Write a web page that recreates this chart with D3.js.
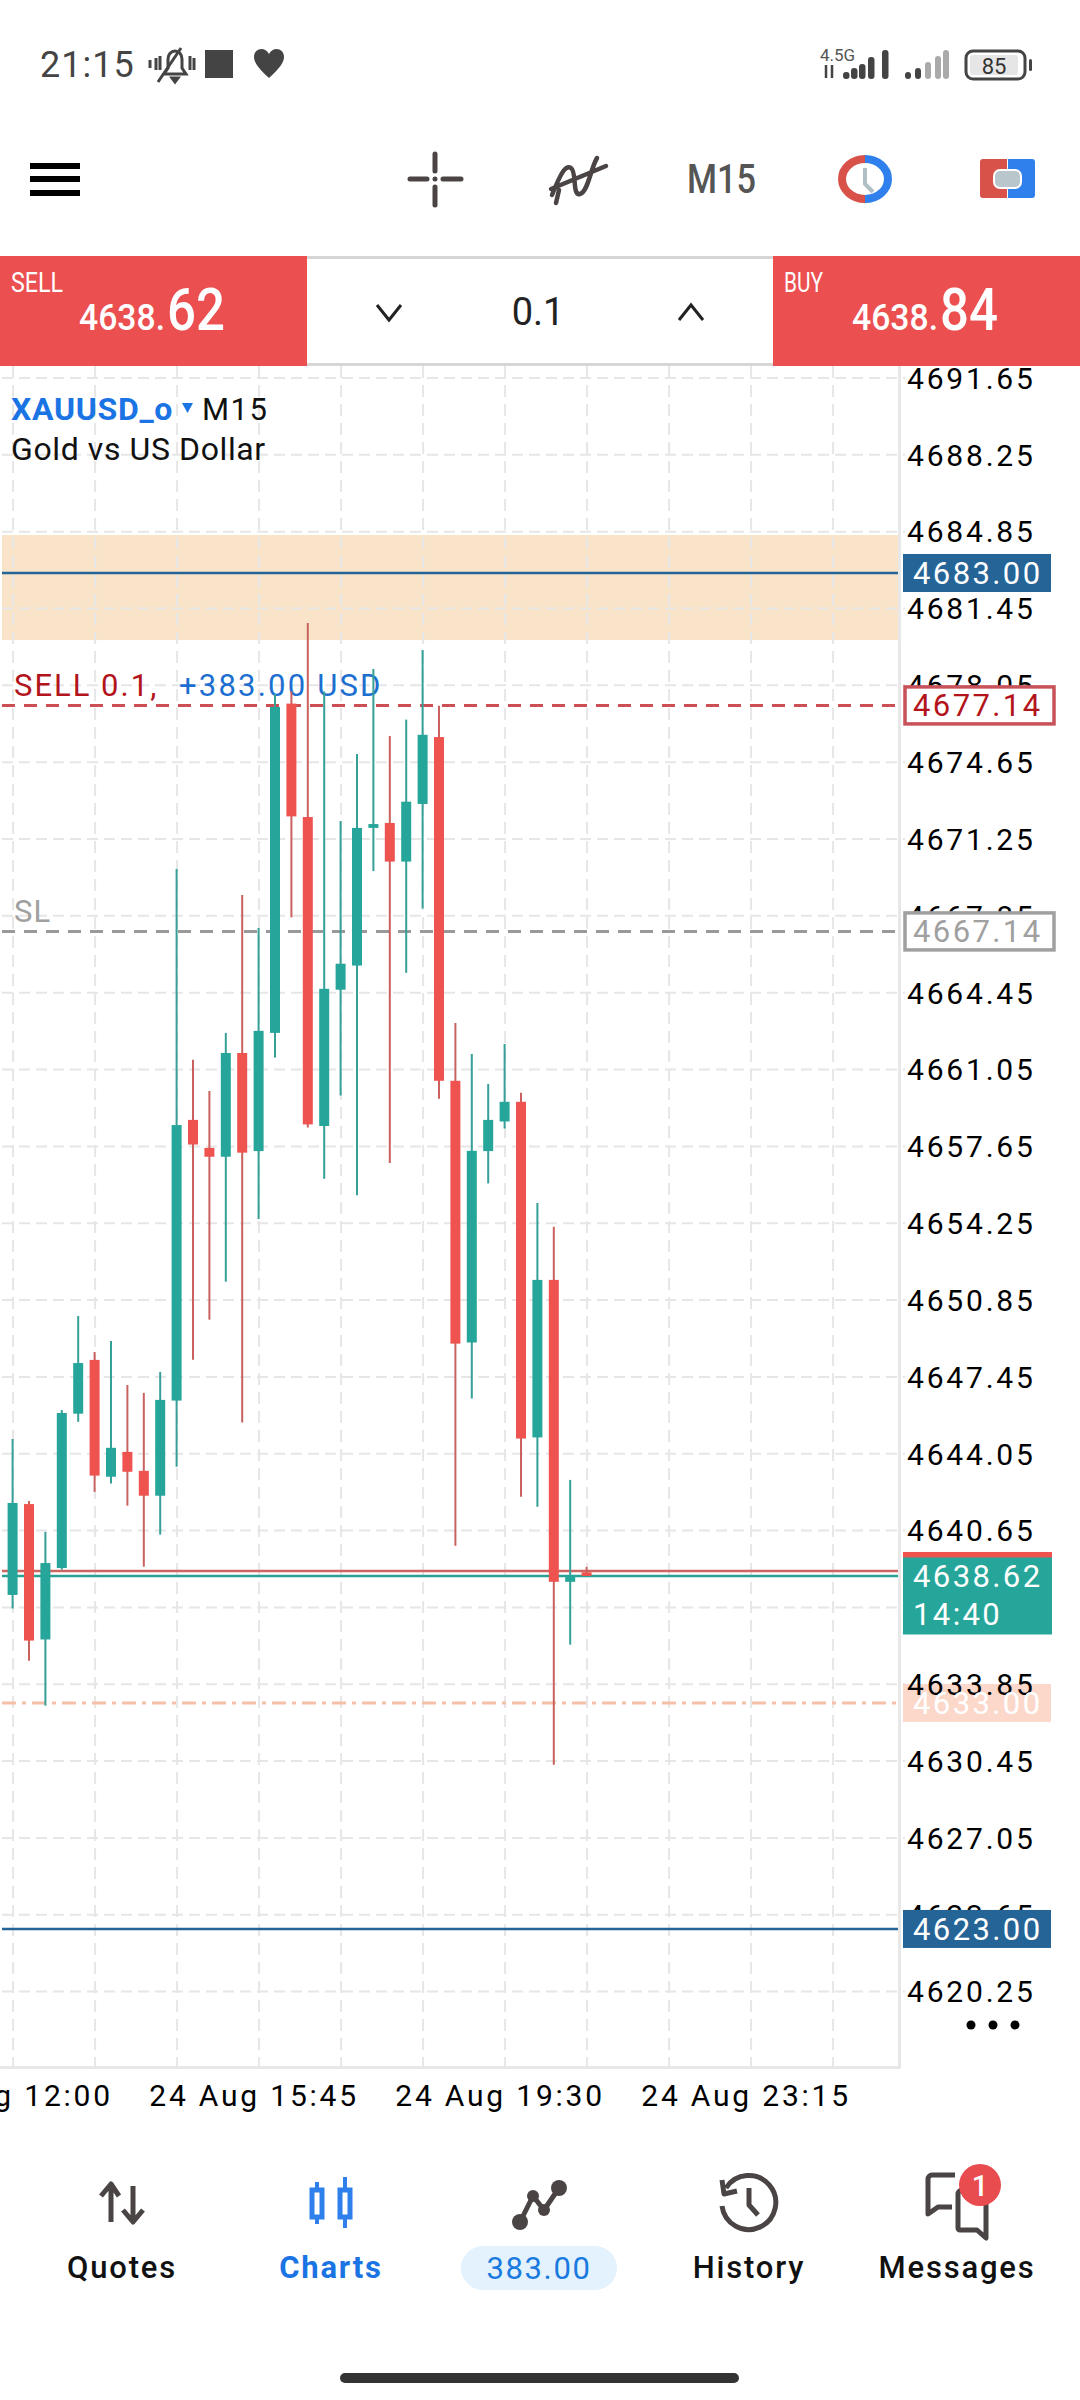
<!DOCTYPE html>
<html>
<head>
<meta charset="utf-8">
<script src="https://cdn.jsdelivr.net/npm/d3@7"></script>
<style>
  html, body { margin: 0; padding: 0; background: #fff; }
  svg { display: block; }
  text { font-family: Roboto, sans-serif; }
</style>
</head>
<body>
<svg id="chart" width="1080" height="2400"></svg>
<script>
// candles, one every 15 minutes from 24 Aug 12:00
const opens  = [4637.78,4641.80,4635.81,4638.97,4645.80,4648.18,4643.01,4644.11,4643.27,4642.17,4646.38,4658.80,4657.56,4657.17,4661.76,4657.42,4662.65,4677.22,4672.20,4658.53,4664.56,4665.63,4671.72,4671.94,4670.23,4672.78,4675.74,4660.53,4648.95,4657.42,4658.73,4659.60,4644.75,4651.72,4638.36,4638.78]
const highs  = [4644.68,4641.94,4640.57,4645.96,4650.12,4648.53,4649.02,4647.07,4646.72,4647.65,4669.90,4661.46,4660.08,4662.65,4668.75,4667.29,4677.65,4677.76,4680.79,4677.76,4672.03,4674.99,4678.75,4675.79,4676.51,4679.59,4677.12,4663.09,4661.72,4660.39,4662.16,4660.00,4655.12,4654.07,4642.87,4639.02]
const lows   = [4637.18,4634.87,4632.88,4638.90,4645.44,4642.34,4642.71,4641.73,4639.03,4640.45,4643.45,4648.19,4649.96,4651.64,4645.41,4654.42,4661.56,4667.76,4658.46,4656.20,4659.88,4655.46,4669.81,4656.89,4665.31,4668.15,4659.74,4639.96,4646.47,4655.99,4658.42,4642.12,4641.68,4630.27,4635.58,4638.62]
const closes = [4641.85,4635.76,4639.19,4645.83,4648.04,4643.06,4644.29,4643.23,4642.17,4646.41,4658.57,4657.71,4657.17,4661.76,4657.35,4662.74,4677.07,4672.23,4658.60,4664.60,4665.71,4671.72,4671.89,4670.23,4672.88,4675.84,4660.53,4648.90,4657.43,4658.80,4659.60,4644.70,4651.72,4638.36,4638.66,4638.62]

const priceTicks = [4691.65,4688.25,4684.85,4681.45,4678.05,4674.65,4671.25,4667.85,4664.45,4661.05,4657.65,4654.25,4650.85,4647.45,4644.05,4640.65,4637.25,4633.85,4630.45,4627.05,4623.65,4620.25]
const gridCandles = [0,5,10,15,20,25,30,35,40,45,50]
const timeCandles = [0,15,30,45]
const timeLabels = ["24 Aug 12:00","24 Aug 15:45","24 Aug 19:30","24 Aug 23:15"]

const bandPrices = [4684.68, 4680.03]
const takeProfits = [4683.00, 4623.00]
const sellPrice = 4677.14
const stopPrice = 4667.14
const alertPrice = 4633.00
const bid = 4638.62
const ask = 4638.84

const GREEN = "#26a69a", RED = "#ef5350", GREEN_WICK = "#359f98", RED_WICK = "#c9625f"
const BLUE = "#256496", GRID = "#e6e6e6", GREY = "#a0a0a0", DARK = "#4a4544"

const plotLeft = 2, plotRight = 898, plotTop = 366, plotBottom = 2066

const candles = opens.map((o, i) => ({ i, o, h: highs[i], l: lows[i], c: closes[i] }))

const xScale = d3.scaleLinear().domain([0, 35]).range([12.6, 586.6])
const yScale = d3.scaleLinear().domain([4691.65, 4620.25]).range([377.5, 1991.1])

const svg = d3.select("#chart")

function label(parent, x, y, txt, size, fill, opts = {}) {
    const t = parent.append("text")
        .attr("x", x).attr("y", y)
        .attr("font-size", size)
        .attr("fill", fill)
        .attr("font-weight", opts.weight || 400)
        .attr("letter-spacing", opts.spacing || 0)
        .attr("text-anchor", opts.anchor || "start")
        .text(txt)
    if (opts.fit) t.attr("textLength", opts.fit).attr("lengthAdjust", "spacingAndGlyphs")
    return t
}

function drawChart() {
    // band behind everything
    svg.append("rect")
        .attr("x", plotLeft).attr("width", plotRight - plotLeft)
        .attr("y", yScale(bandPrices[0]))
        .attr("height", yScale(bandPrices[1]) - yScale(bandPrices[0]))
        .attr("fill", "#f9e4c9")

    // grid, drawn with the axes own tick lines
    const xGrid = d3.axisBottom(xScale).tickValues(gridCandles).tickFormat("").tickSize(plotBottom - plotTop)
    svg.append("g").attr("id", "xGrid")
        .attr("transform", `translate(0, ${plotTop})`)
        .call(xGrid)
    const yGrid = d3.axisRight(yScale).tickValues(priceTicks).tickFormat("").tickSize(905 - plotLeft)
    svg.append("g").attr("id", "yGrid")
        .attr("transform", `translate(${plotLeft}, 0)`)
        .call(yGrid)
    svg.selectAll("#xGrid line").attr("stroke", GRID).attr("stroke-width", 2).attr("stroke-dasharray", "12 7")
    svg.selectAll("#yGrid line").attr("stroke", GRID).attr("stroke-width", 2).attr("stroke-dasharray", "11 6")
    svg.selectAll("path.domain").style("display", "none")

    // chart frame
    svg.append("rect").attr("x", plotRight).attr("y", plotTop).attr("width", 3).attr("height", plotBottom - plotTop + 3).attr("fill", "#e8e8e8")
    svg.append("rect").attr("x", 0).attr("y", plotBottom).attr("width", plotRight + 3).attr("height", 3).attr("fill", "#e8e8e8")

    // trade lines and their captions
    const level = (p, color, dash, w = 2.5) => svg.append("line")
        .attr("x1", plotLeft).attr("x2", plotRight)
        .attr("y1", yScale(p)).attr("y2", yScale(p))
        .attr("stroke", color).attr("stroke-width", w)
        .attr("stroke-dasharray", dash)

    takeProfits.forEach(p => level(p, BLUE, null))
    level(sellPrice, "#cc4f55", "13 9", 3)
    level(stopPrice, "#999999", "13 9", 3)
    level(alertPrice, "#f6bfa9", "14 6 4 6", 3)
    level(ask, "#cf6563", null)
    level(bid, "#2ba196", null)

    label(svg, 14, yScale(sellPrice) - 9, "SELL 0.1,", 31, "#b3141c", { spacing: 2 })
    label(svg, 179, yScale(sellPrice) - 9, "+383.00 USD", 31, "#1c6fd0", { spacing: 2.2 })
    label(svg, 14, yScale(stopPrice) - 9, "SL", 31, GREY, { spacing: 1.2 })

    // the alert tag is see-through, the tick label shows under it
    svg.append("rect").attr("x", 903).attr("y", yScale(alertPrice) - 19).attr("width", 148).attr("height", 38)
        .attr("fill", "#f9b8a0").attr("fill-opacity", 0.55)

    // price labels
    const yAxis = d3.axisRight(yScale).tickValues(priceTicks).tickFormat(d3.format(".2f")).tickSize(0).tickPadding(0)
    svg.append("g").attr("id", "yAxisG")
        .attr("transform", "translate(907, 0)")
        .call(yAxis)
    svg.selectAll("#yAxisG text")
        .attr("font-family", "Roboto, sans-serif")
        .attr("font-size", 30)
        .attr("letter-spacing", 2.8)
        .attr("fill", "#000")
        .attr("x", 0)
        .attr("dy", "0.36em")

    // time labels
    const xAxis = d3.axisBottom(xScale).tickValues(timeCandles).tickFormat((d, i) => timeLabels[i]).tickSize(0).tickPadding(0)
    svg.append("g").attr("id", "xAxisG")
        .attr("transform", `translate(-5, ${plotBottom + 19})`)
        .call(xAxis)
    svg.selectAll("#xAxisG text")
        .attr("font-family", "Roboto, sans-serif")
        .attr("font-size", 30)
        .attr("letter-spacing", 2.8)
        .attr("fill", "#000")
    svg.selectAll("path.domain").style("display", "none")

    // candles
    const g = svg.append("g").attr("id", "candles")
        .selectAll("g").data(candles).enter().append("g")
    g.append("line")
        .attr("x1", d => xScale(d.i)).attr("x2", d => xScale(d.i))
        .attr("y1", d => yScale(d.h)).attr("y2", d => yScale(d.l))
        .attr("stroke", d => d.c >= d.o ? GREEN_WICK : RED_WICK)
        .attr("stroke-width", 2)
    g.append("rect")
        .attr("x", d => xScale(d.i) - 5).attr("width", 10)
        .attr("y", d => yScale(Math.max(d.o, d.c)))
        .attr("height", d => Math.max(2, Math.abs(yScale(d.o) - yScale(d.c))))
        .attr("fill", d => d.c >= d.o ? GREEN : RED)

    // boxes on the price axis, on top of the tick labels
    const box = (p, h, fill, stroke, txtColor) => {
        const yc = yScale(p)
        svg.append("rect").attr("x", stroke ? 905 : 903).attr("y", yc - h / 2)
            .attr("width", stroke ? 149 : 148).attr("height", h)
            .attr("fill", fill).attr("stroke", stroke || "none").attr("stroke-width", 3.5)
        label(svg, 913, yc + 11, d3.format(".2f")(p), 31, txtColor, { spacing: 2.4 })
    }
    takeProfits.forEach(p => box(p, 38, BLUE, null, "#fff"))
    box(sellPrice, 37, "#fff", "#c8525a", "#b3141c")
    box(stopPrice, 37, "#fff", GREY, GREY)
    label(svg, 913, yScale(alertPrice) + 11, d3.format(".2f")(alertPrice), 31, "#fff", { spacing: 2.4 })

    svg.append("rect").attr("x", 903).attr("y", yScale(ask) - 19).attr("width", 149).attr("height", 6).attr("fill", RED)
    svg.append("rect").attr("x", 903).attr("y", yScale(ask) - 13.5).attr("width", 149).attr("height", 77).attr("fill", GREEN)
    label(svg, 913, yScale(bid) + 11, d3.format(".2f")(bid), 31, "#fff", { spacing: 2.4 })
    label(svg, 913, yScale(bid) + 49, "14:40", 31, "#fff", { spacing: 2.4 })

    svg.append("g").selectAll("circle").data([971, 993, 1015]).enter().append("circle")
        .attr("cx", d => d).attr("cy", 2025).attr("r", 4.5).attr("fill", "#000")

    // symbol caption
    label(svg, 11, 420, "XAUUSD_o", 32, "#1b74e4", { weight: 700, spacing: 0.7 })
    svg.append("path").attr("d", "M182,403 h11 l-5.5,10 z").attr("fill", "#1b74e4")
    label(svg, 202, 420, "M15", 31, "#111", { spacing: 1.5 })
    label(svg, 11, 460, "Gold vs US Dollar", 32, "#111", { spacing: 0.6 })
}

function drawStatusBar() {
    label(svg, 40, 77, "21:15", 36, "#444", { spacing: 1 })
    // muted bell
    svg.append("path").attr("d", "M164,74 h22 l-4,-6 v-9 a7,8 0 0 0 -14,0 v9 z M172,78 h6 l-3,4 z").attr("fill", "none").attr("stroke", "#444").attr("stroke-width", 3)
    svg.append("path").attr("d", "M156,58 v12 M194,58 v12 M150,60 v8 M160,56 v14 M190,56 v14 M181,48 L158,82").attr("stroke", "#444").attr("stroke-width", 3)
    svg.append("rect").attr("x", 205).attr("y", 50).attr("width", 28).attr("height", 28).attr("fill", "#444")
    svg.append("path").attr("d", "M269,78 C258,68 254,62 254,57 C254,48 265,46 269,54 C273,46 284,48 284,57 C284,62 280,68 269,78 Z").attr("fill", "#444")

    label(svg, 820, 61, "4.5G", 17, "#555")
    svg.append("path").attr("d", "M826,65 v13 M832,65 v13").attr("stroke", "#444").attr("stroke-width", 2.5)
    const bars = [[843, 72], [851, 68], [859, 64], [868, 57], [882, 50]]
    svg.append("g").selectAll("rect").data(bars).enter().append("rect")
        .attr("x", d => d[0]).attr("width", 6.5).attr("y", d => d[1]).attr("height", d => 79 - d[1]).attr("rx", 3).attr("fill", "#444")
    const bars2 = [[905, 72, "#444"], [915, 68, "#444"], [925, 62, "#aaa"], [935, 56, "#aaa"], [943, 50, "#aaa"]]
    svg.append("g").selectAll("rect").data(bars2).enter().append("rect")
        .attr("x", d => d[0]).attr("width", 6).attr("y", d => d[1]).attr("height", d => 79 - d[1]).attr("rx", 3).attr("fill", d => d[2])
    svg.append("rect").attr("x", 966).attr("y", 51).attr("width", 59).attr("height", 28).attr("rx", 7).attr("fill", "none").attr("stroke", "#444").attr("stroke-width", 3)
    svg.append("rect").attr("x", 970).attr("y", 55).attr("width", 48).attr("height", 20).attr("rx", 3).attr("fill", "#e6e6e6")
    label(svg, 994, 74, "85", 22, "#333", { anchor: "middle" })
    svg.append("rect").attr("x", 1029).attr("y", 59).attr("width", 3).attr("height", 12).attr("rx", 1.5).attr("fill", "#444")
}

function drawToolbar() {
    svg.append("g").selectAll("rect").data([163, 176, 190]).enter().append("rect")
        .attr("x", 30).attr("y", d => d).attr("width", 50).attr("height", 6).attr("fill", "#000")

    svg.append("path").attr("d", "M410,179 h17 M443,179 h18 M435,154 v17 M435,187 v18")
        .attr("stroke", DARK).attr("stroke-width", 5).attr("stroke-linecap", "round").attr("fill", "none")
    svg.append("circle").attr("cx", 435).attr("cy", 179).attr("r", 2.5).attr("fill", DARK)

    svg.append("path").attr("d", "M552,195 C562,170 566,165 571,168 C577,172 572,196 580,194 C588,192 590,170 597,158 M551,189 L606,166 M556,203 L559,190")
        .attr("stroke", DARK).attr("stroke-width", 4.5).attr("stroke-linecap", "round").attr("fill", "none")

    label(svg, 687, 193, "M15", 40, "#555", { weight: 500, fit: 69 })

    svg.append("path").attr("d", "M865,159 A23,20 0 0 0 865,199").attr("fill", "none").attr("stroke", "#d8524a").attr("stroke-width", 8)
    svg.append("path").attr("d", "M865,159 A23,20 0 0 1 865,199").attr("fill", "none").attr("stroke", "#2f80ed").attr("stroke-width", 8)
    svg.append("path").attr("d", "M865,168 V184 L873,192").attr("fill", "none").attr("stroke", "#b0bec5").attr("stroke-width", 4)

    svg.append("path").attr("d", "M1007,159 h-24 a3,3 0 0 0 -3,3 v33 a3,3 0 0 0 3,3 h24 z").attr("fill", "#d8524a")
    svg.append("path").attr("d", "M1008,159 h24 a3,3 0 0 1 3,3 v33 a3,3 0 0 1 -3,3 h-24 z").attr("fill", "#2f80ed")
    svg.append("rect").attr("x", 994).attr("y", 170).attr("width", 27).attr("height", 18).attr("rx", 6).attr("fill", "#b9c6cc").attr("stroke", "#fff").attr("stroke-width", 2)

    // trade panel
    svg.append("rect").attr("x", 307).attr("y", 256).attr("width", 466).attr("height", 3).attr("fill", "#d6d6d6")
    svg.append("rect").attr("x", 307).attr("y", 363).attr("width", 466).attr("height", 3).attr("fill", "#d6d6d6")
    const side = (x0, w, name, pip) => {
        svg.append("rect").attr("x", x0).attr("y", 256).attr("width", w).attr("height", 110).attr("fill", "#eb4f50")
        label(svg, x0 + 11, 292, name, 27, "#fff", { fit: name.length * 13 })
        label(svg, x0 + 79, 330, "4638.", 37, "#fff", { weight: 500, fit: 86 })
        label(svg, x0 + 167, 330, pip, 60, "#fff", { weight: 500, fit: 58 })
    }
    side(0, 307, "SELL", "62")
    side(773, 307, "BUY", "84")
    svg.append("path").attr("d", "M377,305 L389,320 L401,305 M679,320 L691,305 L703,320")
        .attr("fill", "none").attr("stroke", "#222").attr("stroke-width", 3)
    label(svg, 538, 325, "0.1", 38, "#222", { anchor: "middle" })
}

function drawBottomNav() {
    const tabs = [[122, "Quotes", "#111", 500], [331, "Charts", "#1b74e4", 700], [749, "History", "#111", 500], [957, "Messages", "#111", 500]]
    tabs.forEach(t => label(svg, t[0], 2278, t[1], 31, t[2], { weight: t[3], anchor: "middle", spacing: 1.8 }))
    svg.append("rect").attr("x", 461).attr("y", 2246).attr("width", 156).attr("height", 44).attr("rx", 22).attr("fill", "#e3f2fd")
    label(svg, 539, 2279, "383.00", 31, "#1a7ae0", { anchor: "middle", spacing: 1.6 })

    const stroke = (d, color = DARK, w = 5) => svg.append("path").attr("d", d).attr("fill", "none").attr("stroke", color).attr("stroke-width", w).attr("stroke-linejoin", "round")
    // quotes arrows
    stroke("M111,2222 V2186 M101,2196 L111,2184 L119,2196 M133,2186 V2220 M123,2210 L133,2222 L143,2210", DARK, 5)
    // charts candles
    stroke("M317,2182 V2224 M345,2177 V2228", "#2f80ed", 4)
    svg.append("rect").attr("x", 312).attr("y", 2190).attr("width", 10).attr("height", 27).attr("fill", "#fff").attr("stroke", "#2f80ed").attr("stroke-width", 5)
    svg.append("rect").attr("x", 340).attr("y", 2190).attr("width", 10).attr("height", 27).attr("fill", "#fff").attr("stroke", "#2f80ed").attr("stroke-width", 5)
    // equity line
    stroke("M520,2222 L533,2196 L544,2210 L559,2188")
    svg.append("g").selectAll("circle").data([[520, 2222, 8], [533, 2196, 6], [544, 2210, 6], [559, 2188, 8]]).enter().append("circle")
        .attr("cx", d => d[0]).attr("cy", d => d[1]).attr("r", d => d[2]).attr("fill", DARK)
    // history clock
    stroke("M726,2188 A27,27 0 1 1 722,2206")
    stroke("M722,2180 L724,2194 L737,2191 M749,2188 V2205 L758,2215")
    // messages
    stroke("M955,2175 H932 A4,4 0 0 0 928,2179 V2214 L938,2207 H952")
    stroke("M962,2190 A4,4 0 0 0 958,2194 V2228 A2,2 0 0 0 960,2230 H977 L986,2238 V2195")
    svg.append("circle").attr("cx", 980).attr("cy", 2185).attr("r", 21).attr("fill", "#e84c4f")
    label(svg, 980, 2196, "1", 29, "#fff", { anchor: "middle", weight: 500 })

    svg.append("rect").attr("x", 340).attr("y", 2373).attr("width", 399).attr("height", 10).attr("rx", 5).attr("fill", "#333")
}

drawChart()
drawStatusBar()
drawToolbar()
drawBottomNav()
</script>
</body>
</html>
